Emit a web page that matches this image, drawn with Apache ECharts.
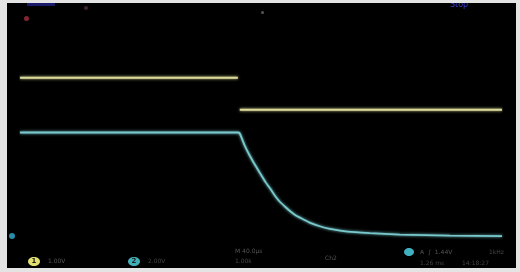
<!DOCTYPE html>
<html lang="en">
<head>
    <meta charset="UTF-8">
    <title>Scope capture</title>
    <script src="https://cdn.jsdelivr.net/npm/echarts@6/dist/echarts.min.js"></script>
    <style>
        body{
            margin: 0;
            background: #e4e4e4;
        }
        #main{
            position: absolute;
            left: 7px;
            top: 3px;
            width: 509px;
            height: 265px;
            background: #000;
        }
    </style>
</head>
<body>
<div id="main"></div>
<script type="text/javascript">
    // time in % of record, value in screen divisions
    let ch1Data = [[0, 1.74], [45.2, 1.74], [45.4, '-'], [45.6, 0.78], [100, 0.78]];
    let ch2Data = [[0, 0.09], [45.2, 0.09], [45.6, 0.06], [46.6, -0.30], [47.7, -0.62], [48.8, -0.90],
        [49.8, -1.14], [50.9, -1.40], [51.9, -1.60], [52.9, -1.82], [53.9, -2.00], [55.0, -2.15],
        [56.0, -2.28], [57.0, -2.39], [58.1, -2.48], [60.1, -2.63], [62.2, -2.74], [64.3, -2.82],
        [66.4, -2.87], [69.5, -2.92], [72.6, -2.95], [78.8, -2.99], [89.2, -3.02], [100, -3.04]];
    let ch1Scale = '1.00V';
    let ch2Scale = '2.00V';
    let timeBase = 'M 40.0µs';
    let trigInfo = 'A  ∫  1.44V';
    let statusText = 'Stop';

    let dom = document.getElementById("main");
    let myChart = echarts.init(dom);

    let txt = function(x, y, s, color, size){
        return {
            type: 'text', left: x, top: y,
            style: {text: s, fill: color, font: (size || 7) + 'px "DejaVu Sans"'}
        };
    };
    let badge = function(x, y, s, color){
        return {
            type: 'group', left: x, top: y,
            children: [
                {type: 'ellipse', shape: {cx: 6, cy: 5, rx: 6, ry: 4.5}, style: {fill: color}},
                {type: 'text', style: {text: s, x: 6, y: 5, align: 'center', verticalAlign: 'middle',
                    fill: '#222', font: 'bold 7px "DejaVu Sans"'}}
            ]
        };
    };

    let option = {
        backgroundColor: '#000',
        animation: false,
        grid: {left: 13, right: 14, top: 0, bottom: 0},
        xAxis: {type: 'value', min: 0, max: 100, show: false},
        yAxis: {type: 'value', min: -4, max: 4, show: false},
        graphic: [
            {type: 'circle', left: 17, top: 13, shape: {r: 2.5}, style: {fill: '#a03040', opacity: 0.8}},
            {type: 'circle', left: 77, top: 3, shape: {r: 2}, style: {fill: '#603040', opacity: 0.7}},
            {type: 'rect', left: 20, top: -2, shape: {width: 28, height: 5}, style: {fill: '#1a1a6a'}},
            {type: 'circle', left: 254, top: 8, shape: {r: 1.5}, style: {fill: '#555'}},
            txt(443, -2, statusText, '#3a3acc', 8),
            {type: 'circle', left: 2, top: 230, shape: {r: 3}, style: {fill: '#2a8aa8'}},
            badge(21, 254, '1', '#e0e070'),
            txt(41, 255, ch1Scale, '#555', 6),
            badge(121, 254, '2', '#40b0b8'),
            txt(141, 255, ch2Scale, '#444', 6),
            txt(228, 245, timeBase, '#555', 6),
            txt(228, 255, '1.00k', '#444', 6),
            txt(318, 252, 'Ch2', '#555', 6),
            {type: 'ellipse', left: 397, top: 245, shape: {cx: 5, cy: 4, rx: 5, ry: 4}, style: {fill: '#40b0c0'}},
            txt(413, 246, trigInfo, '#555', 6),
            txt(413, 257, '1.26 ms', '#444', 6),
            txt(455, 257, '14:18:27', '#444', 6),
            txt(482, 246, '1kHz', '#444', 6)
        ],
        series: [
            {
                name: 'CH1',
                type: 'line',
                data: ch1Data,
                showSymbol: false,
                connectNulls: false,
                lineStyle: {color: '#dcdc9a', width: 2, shadowColor: '#dcdc9a', shadowBlur: 3}
            },
            {
                name: 'CH2',
                type: 'line',
                smooth: 0.2,
                data: ch2Data,
                showSymbol: false,
                lineStyle: {color: '#78c8cc', width: 1.8, shadowColor: '#78c8cc', shadowBlur: 3}
            }
        ]
    };
    myChart.setOption(option);
</script>
</body>
</html>
